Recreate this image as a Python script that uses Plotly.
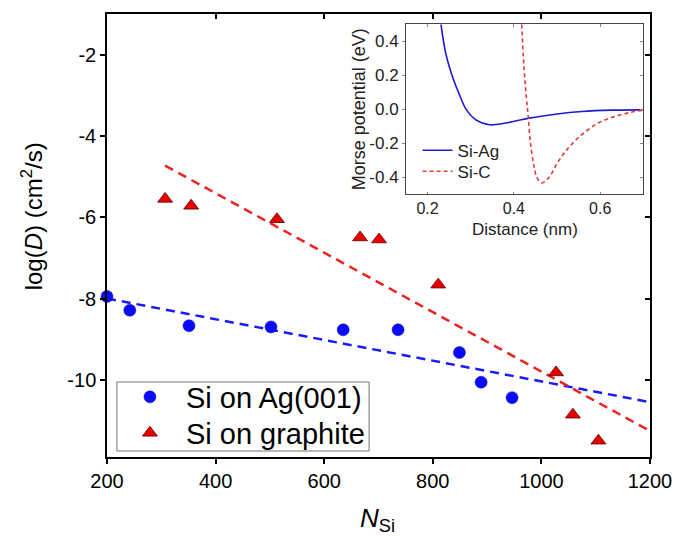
import plotly.graph_objects as go

# Diffusion coefficients vs. cluster size
n_ag = [200, 242, 351, 502, 635, 736, 849, 889, 946]
logd_ag = [-7.95, -8.29, -8.67, -8.70, -8.77, -8.77, -9.33, -10.06, -10.44]

n_gr = [307, 355, 513, 666, 701, 810, 1027, 1058, 1105]
logd_gr = [-5.55, -5.72, -6.05, -6.50, -6.55, -7.66, -9.82, -10.86, -11.50]

# Linear trend lines (end points)
fit_ag_n = [200, 1200]
fit_ag_logd = [-8.00, -10.55]
fit_gr_n = [307, 1200]
fit_gr_logd = [-4.73, -11.26]

# Morse potentials (inset)
r_siag = [0.231, 0.243, 0.259, 0.274, 0.289, 0.312, 0.343, 0.381, 0.435,
          0.496, 0.557, 0.626, 0.698]
v_siag = [0.50, 0.319, 0.182, 0.084, 0.0, -0.063, -0.092, -0.082, -0.053,
          -0.030, -0.014, -0.006, -0.004]

r_sic = [0.418, 0.423, 0.429, 0.433, 0.438, 0.446, 0.454, 0.465, 0.480,
         0.503, 0.526, 0.557, 0.595, 0.633, 0.672, 0.700]
v_sic = [0.50, 0.26, 0.065, -0.034, -0.19, -0.328, -0.406, -0.435, -0.406,
         -0.308, -0.229, -0.151, -0.082, -0.044, -0.018, -0.006]

main_xticks = [200, 400, 600, 800, 1000, 1200]
main_yticks = [-2, -4, -6, -8, -10]
main_yticktext = ["-2", "-4", "-6", "-8", "-10"]
inset_xticks = [0.2, 0.4, 0.6]
inset_xticktext = ["0.2", "0.4", "0.6"]
inset_yticks = [-0.4, -0.2, 0.0, 0.2, 0.4]
inset_yticktext = ["-0.4", "-0.2", "0.0", "0.2", "0.4"]

FONT = "Arial, Liberation Sans, sans-serif"
W, H = 684, 536
L, R, T, B = 107, 28, 14, 79
PW, PH = W - L - R, H - T - B


def px_x(p):
    return (p - L) / PW


def px_y(p):
    return (H - B - p) / PH


fig = go.Figure()

fig.add_trace(go.Scatter(
    x=fit_ag_n, y=fit_ag_logd, mode="lines", showlegend=False,
    line=dict(color="#1a1aff", width=2.5, dash="9px,6px")))
fig.add_trace(go.Scatter(
    x=fit_gr_n, y=fit_gr_logd, mode="lines", showlegend=False,
    line=dict(color="#ee2222", width=2.5, dash="9px,6px")))

fig.add_trace(go.Scatter(
    x=n_ag, y=logd_ag, mode="markers", name="Si on Ag(001)",
    cliponaxis=False, legend="legend",
    marker=dict(symbol="circle", size=12, color="#0a0aff",
                line=dict(color="#0000b0", width=0.5))))
fig.add_trace(go.Scatter(
    x=n_gr, y=logd_gr, mode="markers", name="Si on graphite",
    cliponaxis=False, legend="legend3",
    marker=dict(symbol="triangle-up", size=13, color="#e60000",
                line=dict(color="#600000", width=0.8))))

# Inset curves
fig.add_trace(go.Scatter(
    x=r_siag, y=v_siag, mode="lines", name="Si-Ag", xaxis="x2", yaxis="y2",
    legend="legend2", line=dict(color="#1c1cd0", width=1.6, shape="spline")))
fig.add_trace(go.Scatter(
    x=r_sic, y=v_sic, mode="lines", name="Si-C", xaxis="x2", yaxis="y2",
    legend="legend4",
    line=dict(color="#e03a3a", width=1.6, dash="4px,3px", shape="spline")))

# Empty traces that carry the inward mirrored tick axes
fig.add_trace(go.Scatter(x=[None], y=[None], xaxis="x3", yaxis="y3",
                         showlegend=False, hoverinfo="skip"))
fig.add_trace(go.Scatter(x=[None], y=[None], xaxis="x4", yaxis="y4",
                         showlegend=False, hoverinfo="skip"))

main_axis = dict(showgrid=False, zeroline=False, showline=True, mirror=True,
                 linecolor="black", linewidth=1.5, ticks="outside", ticklen=5,
                 tickwidth=1.5, tickcolor="black",
                 tickfont=dict(family=FONT, size=20, color="black"))

ix0, ix1 = px_x(409.3), px_x(649.3)
iy0, iy1 = px_y(194.0), px_y(24.3)

inset_axis = dict(showgrid=False, zeroline=False, showline=True, mirror=True,
                  linecolor="#444444", linewidth=1, ticks="outside", ticklen=3,
                  tickwidth=1, tickcolor="#888888",
                  tickfont=dict(family=FONT, size=17, color="#222222"))

main_legend = dict(xanchor="left", yanchor="middle", bgcolor="rgba(0,0,0,0)",
                   borderwidth=0, itemwidth=62,
                   font=dict(family=FONT, size=29, color="black"))
inset_legend = dict(xanchor="left", yanchor="middle", bgcolor="rgba(0,0,0,0)",
                    borderwidth=0, itemwidth=30,
                    font=dict(family=FONT, size=17, color="#222222"))

fig.update_layout(
    width=W, height=H,
    margin=dict(l=L, r=R, t=T, b=B),
    paper_bgcolor="white", plot_bgcolor="white",
    font=dict(family=FONT, color="black"),
    xaxis=dict(main_axis, range=[200, 1200], tickvals=main_xticks,
               domain=[0, 1], anchor="y"),
    yaxis=dict(main_axis, range=[-11.9, -1.0], tickvals=main_yticks,
               ticktext=main_yticktext, domain=[0, 1], anchor="x"),
    xaxis3=dict(range=[200, 1200], tickvals=main_xticks, overlaying="x",
                side="top", anchor="y", ticks="inside", ticklen=5,
                tickwidth=1.5, tickcolor="black", showticklabels=False,
                showgrid=False, zeroline=False, showline=False),
    yaxis3=dict(range=[-11.9, -1.0], tickvals=main_yticks, overlaying="y",
                side="right", anchor="x", ticks="inside", ticklen=5,
                tickwidth=1.5, tickcolor="black", showticklabels=False,
                showgrid=False, zeroline=False, showline=False),
    xaxis2=dict(inset_axis, range=[0.15, 0.70], tickvals=inset_xticks,
                ticktext=inset_xticktext, ticks="inside", ticklen=2,
                tickfont=dict(family=FONT, size=16, color="#222222"),
                domain=[ix0, ix1], anchor="y2"),
    yaxis2=dict(inset_axis, range=[-0.5, 0.5], tickvals=inset_yticks,
                ticktext=inset_yticktext, domain=[iy0, iy1], anchor="x2"),
    xaxis4=dict(range=[0.15, 0.70], tickvals=inset_xticks, overlaying="x2",
                side="top", anchor="y2", ticks="inside", ticklen=3,
                tickcolor="#888888", showticklabels=False, showgrid=False,
                zeroline=False, showline=False),
    yaxis4=dict(range=[-0.5, 0.5], tickvals=inset_yticks, overlaying="y2",
                side="right", anchor="x2", ticks="inside", ticklen=3,
                tickcolor="#888888", showticklabels=False, showgrid=False,
                zeroline=False, showline=False),
    legend=dict(main_legend, x=px_x(114), y=px_y(397)),
    legend3=dict(main_legend, x=px_x(114), y=px_y(433)),
    legend2=dict(inset_legend, x=px_x(421), y=px_y(150.7)),
    legend4=dict(inset_legend, x=px_x(421), y=px_y(171.7)),
    shapes=[
        # frame around the main legend
        dict(type="rect", xref="paper", yref="paper",
             x0=px_x(117), x1=px_x(372), y0=px_y(451), y1=px_y(382),
             fillcolor="white", line=dict(color="#777777", width=1),
             layer="below"),
    ],
    annotations=[
        dict(text="<i>N</i><sub>Si</sub>", x=px_x(380), y=px_y(519),
             xref="paper", yref="paper", showarrow=False,
             xanchor="center", yanchor="middle",
             font=dict(family=FONT, size=26, color="black")),
        dict(text="log(<i>D</i>) (cm<sup>2</sup>/s)", x=px_x(31),
             y=px_y(216.5), xref="paper", yref="paper", showarrow=False,
             textangle=-90, xanchor="center", yanchor="middle",
             font=dict(family=FONT, size=24, color="black")),
        dict(text="Morse potential (eV)", x=px_x(362), y=px_y(109),
             xref="paper", yref="paper", showarrow=False, textangle=-90,
             xanchor="center", yanchor="middle",
             font=dict(family=FONT, size=18, color="#222222")),
        dict(text="Distance (nm)", x=px_x(530), y=px_y(229),
             xref="paper", yref="paper", showarrow=False,
             xanchor="center", yanchor="middle",
             font=dict(family=FONT, size=17, color="#222222")),
    ],
)

fig.write_html("out.html")
